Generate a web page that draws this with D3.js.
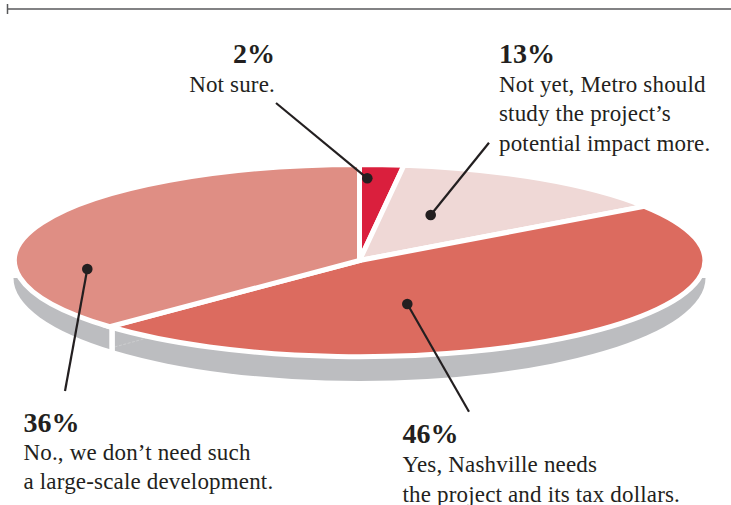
<!DOCTYPE html>
<html>
<head>
<meta charset="utf-8">
<script src="https://cdnjs.cloudflare.com/ajax/libs/d3/7.8.5/d3.min.js"></script>
<style>
  html, body { margin: 0; padding: 0; background: #fff; }
  svg { display: block; }
  text { font-family: "Liberation Serif", serif; fill: #231f20; }
  .pct { font-size: 28px; font-weight: bold; }
  .desc { font-size: 23px; letter-spacing: 0.17px; }
</style>
</head>
<body>
<div id="chart"></div>
<script>
// Survey answers, clockwise from 12 o'clock. They add up to 97, as printed.
const answers = ["Not sure.", "Not yet", "Yes", "No"];
const shares = [2, 13, 46, 36];
const pctLabels = ["2%", "13%", "46%", "36%"];
const descLines = [
  ["Not sure."],
  ["Not yet, Metro should", "study the project\u2019s", "potential impact more."],
  ["Yes, Nashville needs", "the project and its tax dollars."],
  ["No., we don\u2019t need such", "a large-scale development."]
];

const width = 731;
const height = 505;

const color = d3.scaleOrdinal()
  .domain(answers)
  .range(["#da1f3d", "#efd8d6", "#dc6b5f", "#df8e84"]);

// Tilted pie: a unit circle squashed into an ellipse
const cx = 359.5, cy = 260.5, rx = 345, ry = 96;
const x = d3.scaleLinear().domain([-1, 1]).range([cx - rx, cx + rx]);

const svg = d3.select("#chart").append("svg")
  .attr("width", width)
  .attr("height", height);

// Rule at the top
svg.append("line").attr("x1", 7).attr("x2", width).attr("y1", 9).attr("y2", 9)
  .attr("stroke", "#58595b").attr("stroke-width", 1.5);
svg.append("line").attr("x1", 7.5).attr("x2", 7.5).attr("y1", 4).attr("y2", 14)
  .attr("stroke", "#58595b").attr("stroke-width", 1.5);

const pie = d3.pie().sort(null).value(d => d);
const slices = pie(shares);
const arc = d3.arc().innerRadius(0).outerRadius(1);

// Grey rim under the pie
svg.append("path")
  .attr("d", arc({ startAngle: Math.PI / 2, endAngle: Math.PI * 1.5 }))
  .attr("transform", `translate(${cx},278) scale(346,103)`)
  .attr("fill", "#bcbdc0");

// Cut in the rim under the 46/36 boundary
const cutX = x(Math.sin(slices[2].endAngle)) + 2.4;
svg.append("line")
  .attr("x1", cutX + 2.5).attr("x2", cutX + 35)
  .attr("y1", 347).attr("y2", 338)
  .attr("stroke", "#cfd0d2").attr("stroke-width", 0.8)
  .attr("stroke-dasharray", "3 1.5");
svg.append("line")
  .attr("x1", cutX).attr("x2", cutX)
  .attr("y1", 320).attr("y2", 358)
  .attr("stroke", "#fff").attr("stroke-width", 5.6);

svg.append("g")
  .attr("transform", `translate(${cx},${cy}) scale(${rx},${ry})`)
  .selectAll("path")
  .data(slices)
  .enter()
  .append("path")
  .attr("d", arc)
  .attr("fill", (d, i) => color(answers[i]))
  .attr("stroke", "#fff")
  .attr("stroke-width", 5)
  .attr("vector-effect", "non-scaling-stroke");

// Leader lines and labels, same order as the answers
const leaders = [
  { dot: [367.3, 178.3], end: [276, 103] },
  { dot: [430.7, 215], end: [489, 142.7] },
  { dot: [407.3, 304], end: [469, 411.7] },
  { dot: [87.3, 269], end: [65, 391] }
];
const labelPos = [
  { x: 275, y: 62.7, lead: 29, anchor: "end" },
  { x: 499, y: 62.7, lead: 29.3, anchor: "start" },
  { x: 402.5, y: 443, lead: 29.3, anchor: "start" },
  { x: 23.5, y: 431.7, lead: 28.5, anchor: "start" }
];

const leader = svg.append("g").selectAll("g").data(leaders).enter().append("g");
leader.append("line")
  .attr("x1", d => d.dot[0]).attr("y1", d => d.dot[1])
  .attr("x2", d => d.end[0]).attr("y2", d => d.end[1])
  .attr("stroke", "#231f20").attr("stroke-width", 2.2);
leader.append("circle")
  .attr("cx", d => d.dot[0]).attr("cy", d => d.dot[1])
  .attr("r", 5.3).attr("fill", "#231f20");

const label = svg.append("g").selectAll("text").data(labelPos).enter().append("g");
label.append("text")
  .attr("class", "pct")
  .attr("x", d => d.x).attr("y", d => d.y)
  .attr("text-anchor", d => d.anchor)
  .text((d, i) => pctLabels[i]);
label.each(function(d, i) {
  d3.select(this).selectAll("text.desc")
    .data(descLines[i])
    .enter()
    .append("text")
    .attr("class", "desc")
    .attr("x", d.x)
    .attr("y", (t, j) => d.y + d.lead * (j + 1))
    .attr("text-anchor", d.anchor)
    .text(t => t);
});
</script>
</body>
</html>
